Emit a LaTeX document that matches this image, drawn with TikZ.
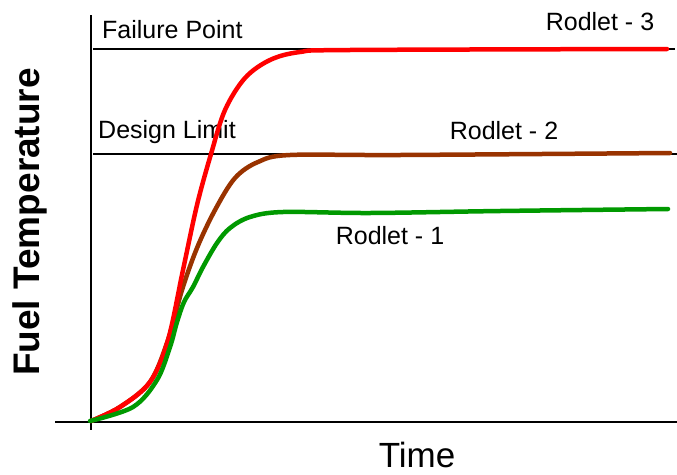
\documentclass[tikz,border=0pt]{standalone}
\usepackage{fontspec}
\setmainfont{Liberation Sans}
\definecolor{rodred}{RGB}{255,0,0}
\definecolor{rodbrown}{RGB}{153,51,0}
\definecolor{rodgreen}{RGB}{0,153,0}
\tikzset{
  axisline/.style={line width=1.3pt, black},
  limitline/.style={line width=1.3pt, black},
  rodcurve/.style={line width=4.5pt, line cap=round, line join=round},
  lbl/.style={inner sep=0pt, font=\fontsize{25}{30}\selectfont},
}
\begin{document}
\begin{tikzpicture}[x=1pt, y=-1pt]
\useasboundingbox (0,0) rectangle (677,474);

% axes
\coordinate (ytop) at (91,15);
\coordinate (ybot) at (91,430);
\coordinate (xleft) at (55,422);
\coordinate (xright) at (677,422);
\draw[axisline] (ytop) -- (ybot);
\draw[axisline] (xleft) -- (xright);

% limits
\coordinate (fpl) at (93,49);
\coordinate (fpr) at (675,49);
\coordinate (dll) at (93,154);
\coordinate (dlr) at (677,154);
\draw[limitline] (fpl) -- (fpr);
\draw[limitline] (dll) -- (dlr);

\node[lbl, anchor=west] (fail) at (102,30) {Failure Point};
\node[lbl, anchor=west] (design) at (98,132) {Design Limit};

% rodlets
\draw[rodcurve, rodbrown] plot[smooth, tension=0.55] coordinates {(91,421) (120,407) (150,382) (168,340) (182,290) (197,248) (215,210) (235,178) (258,162) (290,155) (400,155) (670,153)};
\draw[rodcurve, rodred] plot[smooth, tension=0.55] coordinates {(91,421) (120,407) (150,382) (168,340) (183,270) (197,205) (211,154) (225,110) (245,78) (270,60) (300,52) (350,50) (667,49)};
\draw[rodcurve, rodgreen] plot[smooth, tension=0.55] coordinates {(90,421) (133,407) (157,380) (170,347) (177,322) (184,302) (193,287) (203,267) (217,243) (230,228) (250,217) (283,212) (370,213) (500,211) (668,209)};

\node[lbl] (rod3) at (600,22) {Rodlet - 3};
\node[lbl] (rod2) at (504,131) {Rodlet - 2};
\node[lbl] (rod1) at (390,236) {Rodlet - 1};

\node[font=\fontsize{37}{44}\bfseries, rotate=90, inner sep=0pt] (ylab) at (30,222) {Fuel Temperature};
\node[font=\fontsize{35}{42}\selectfont, inner sep=0pt] (xlab) at (417,455) {Time};
\end{tikzpicture}
\end{document}
